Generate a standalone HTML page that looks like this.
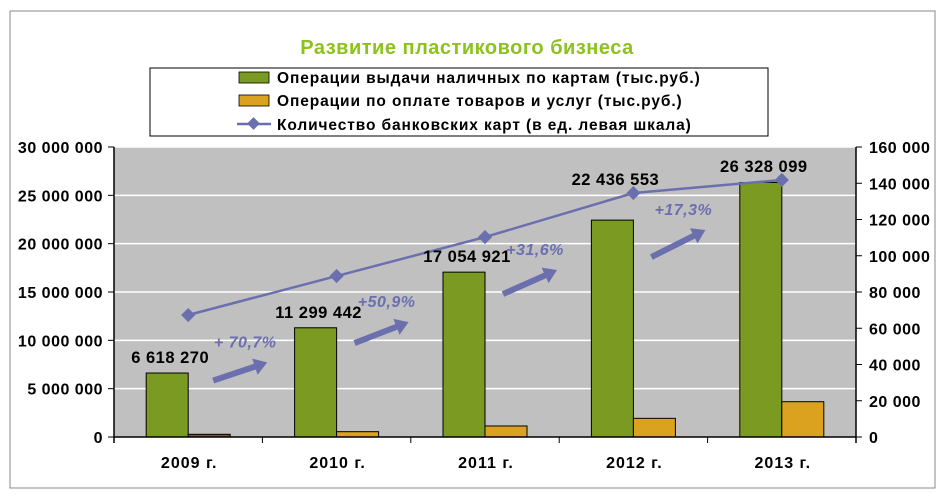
<!DOCTYPE html>
<html><head><meta charset="utf-8"><style>
body{margin:0;background:#fff;}
svg{display:block;font-family:"Liberation Sans",Arial,sans-serif;}
</style></head><body>
<svg id="c" width="947" height="497">
<rect x="10" y="11" width="925" height="477" fill="#fff" stroke="#888" stroke-width="1"/>
<text x="467" y="54" text-anchor="middle" font-size="20" font-weight="bold" letter-spacing="0.5" fill="#8cc21e">Развитие пластикового бизнеса</text>
<g font-size="15.5" font-weight="bold" letter-spacing="0.9">
<rect x="150" y="68" width="618" height="68" fill="#fff" stroke="#000" stroke-width="1"/>
<g><rect x="239" y="72" width="30" height="11" fill="#7a9a22" stroke="#000" stroke-width="0.8"/><text x="277" y="83">Операции выдачи наличных по картам (тыс.руб.)</text></g>
<g><rect x="239" y="95" width="30" height="11" fill="#daa21f" stroke="#000" stroke-width="0.8"/><text x="277" y="106">Операции по оплате товаров и услуг (тыс.руб.)</text></g>
<g><line x1="237" y1="124" x2="271" y2="124" stroke="#6b6fae" stroke-width="2.5"/><rect x="249" y="119" width="9" height="9" fill="#6b6fae" transform="rotate(45 253.5 123.5)"/><text x="277" y="130">Количество банковских карт (в ед. левая шкала)</text></g>
</g>
<g id="plot"></g>
</svg>
<script>
const categories=["2009 г.","2010 г.","2011 г.","2012 г.","2013 г."];
const cashValues=[6618270,11299442,17054921,22436553,26328099];
const cashLabels=["6 618 270","11 299 442","17 054 921","22 436 553","26 328 099"];
const paymentValues=[280000,550000,1140000,1930000,3650000];
const cardValues=[67300,88800,110300,134600,141800];
const leftTicks=[0,5000000,10000000,15000000,20000000,25000000,30000000];
const leftTickLabels=["0","5 000 000","10 000 000","15 000 000","20 000 000","25 000 000","30 000 000"];
const rightTicks=[0,20000,40000,60000,80000,100000,120000,140000,160000];
const rightTickLabels=["0","20 000","40 000","60 000","80 000","100 000","120 000","140 000","160 000"];
const growthLabels=["+ 70,7%","+50,9%","+31,6%","+17,3%"];

const NS="http://www.w3.org/2000/svg";
const g=document.getElementById('plot');
const X0=114,X1=856,Y0=437,Y1=147;
const band=(X1-X0)/categories.length;
const yL=v=>Y0-(v/30000000)*(Y0-Y1);
const yR=v=>Y0-(v/160000)*(Y0-Y1);
const cx=i=>X0+band*(i+0.5);
function mk(tag,attrs,parent){const e=document.createElementNS(NS,tag);for(const k in attrs)e.setAttribute(k,attrs[k]);(parent||g).appendChild(e);return e;}

const bg=mk('rect',{x:X0,y:Y1,width:X1-X0,height:Y0-Y1,fill:'#c0c0c0'});


leftTicks.forEach((t,i)=>{
  const y=yL(t);
  if(t>0){const gl=mk('line',{x1:X0,x2:X1,y1:y,y2:y,stroke:'#fff','stroke-width':1.5});
  
  }
  mk('line',{x1:X0-6,x2:X0,y1:y,y2:y,stroke:'#000','stroke-width':1});
  const tx=mk('text',{x:X0-11,y:y+6,'text-anchor':'end','font-size':16,'font-weight':'bold','letter-spacing':0.5});
  tx.textContent=leftTickLabels[i];
  
  
});
rightTicks.forEach((t,i)=>{
  const y=yR(t);
  mk('line',{x1:X1,x2:X1+6,y1:y,y2:y,stroke:'#000','stroke-width':1});
  const tx=mk('text',{x:X1+13,y:y+6,'font-size':16,'font-weight':'bold','letter-spacing':0.5});
  tx.textContent=rightTickLabels[i];
  
  
});
categories.forEach((c,i)=>{
  const bw=42,x=cx(i);
  const gb=mk('rect',{x:x-bw,y:yL(cashValues[i]),width:bw,height:Y0-yL(cashValues[i]),fill:'#7a9a22',stroke:'#000','stroke-width':1});
  
  
  const ob=mk('rect',{x:x,y:yL(paymentValues[i]),width:bw,height:Y0-yL(paymentValues[i]),fill:i===0?'#7a5a12':'#daa21f',stroke:'#000','stroke-width':1});
  
  
  const ct=mk('text',{x:x+1,y:468,'text-anchor':'middle','font-size':16,'font-weight':'bold','letter-spacing':1});
  ct.textContent=c;
  
  
  if(i>0){mk('line',{x1:X0+band*i,x2:X0+band*i,y1:Y0,y2:Y0+6,stroke:'#000'});}
});
const axL=mk('line',{x1:X0,x2:X0,y1:Y1,y2:Y0+6,stroke:'#000','stroke-width':1.5});


const axR=mk('line',{x1:X1,x2:X1,y1:Y1,y2:Y0+6,stroke:'#000','stroke-width':1.5});


const axB=mk('line',{x1:X0,x2:X1,y1:Y0,y2:Y0,stroke:'#000','stroke-width':1.5});



const pts=cardValues.map((v,i)=>cx(i)+','+yR(v)).join(' ');
const ln=mk('polyline',{points:pts,fill:'none',stroke:'#6b6fae','stroke-width':2.5});


cardValues.forEach((v,i)=>{
  const x=cx(i),y=yR(v);
  const m=mk('rect',{x:x-5,y:y-5,width:10,height:10,fill:'#6b6fae',transform:`rotate(45 ${x} ${y})`});
  
  
});
cashValues.forEach((v,i)=>{
  let y=yL(v)-10;
  const ly=yR(cardValues[i]);
  if(y-ly<23) y=ly-8;
  const t=mk('text',{x:cx(i)-18,y:y,'text-anchor':'middle','font-size':16.5,'font-weight':'bold','letter-spacing':0.5});
  t.textContent=cashLabels[i];
  
  
});
// annotation placement (layout, not data)
const arrowOffsets=[[52,76],[45,76],[45,67],[45,57]];
const arrowRise=[18,21,24,27];
growthLabels.forEach((lab,i)=>{
  const x=cx(i)+arrowOffsets[i][0];
  const ymid=(yR(cardValues[i])+yR(cardValues[i+1]))/2+arrowOffsets[i][1];
  const a=mk('g',{});
  
  
  const r=arrowRise[i];
  const x1=x-27,y1=ymid+r/2,x2=x+27,y2=ymid-r/2;
  const ang=Math.atan2(y2-y1,x2-x1),L=Math.hypot(x2-x1,y2-y1);
  const grp=mk('g',{transform:`translate(${x1},${y1}) rotate(${ang*180/Math.PI})`},a);
  mk('polygon',{points:`0,-3 ${L-13},-3 ${L-13},-8.5 ${L},0 ${L-13},8.5 ${L-13},3 0,3`,fill:'#6b6fae'},grp);
  const t=mk('text',{x:x+5,y:ymid-r/2-15,'text-anchor':'middle','font-size':16,'font-weight':'bold','font-style':'italic','letter-spacing':0.5,fill:'#6b6fae'});
  t.textContent=lab;
  
  
});
</script>
</body></html>
